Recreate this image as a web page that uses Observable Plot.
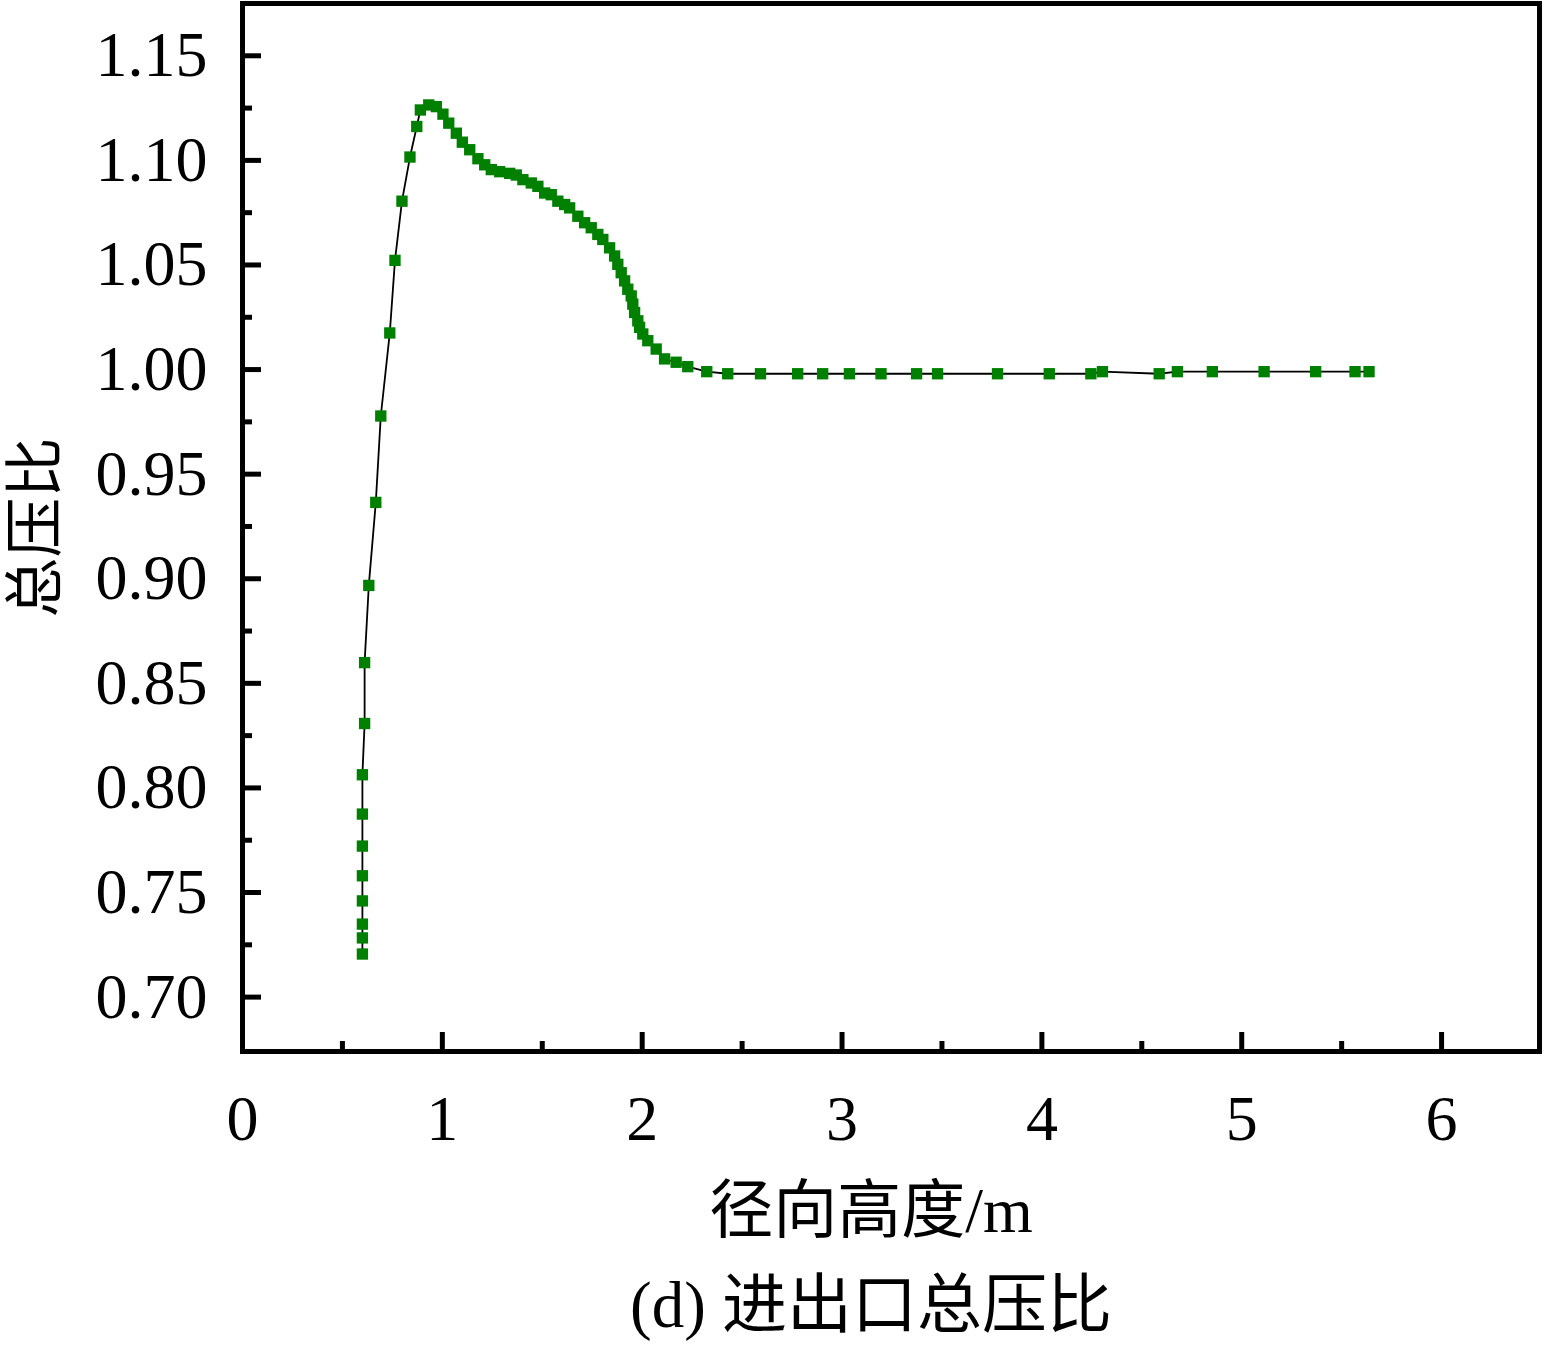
<!DOCTYPE html>
<html>
<head>
<meta charset="utf-8">
<script src="https://cdn.jsdelivr.net/npm/d3@7"></script>
<script src="https://cdn.jsdelivr.net/npm/@observablehq/plot@0.6"></script>
<style>
  html, body { margin: 0; padding: 0; background: #fff; }
</style>
</head>
<body>
<div id="chart"></div>
<script>
// Radial height (m)
const radialHeight = [
  0.600, 0.600, 0.600, 0.600, 0.600, 0.600, 0.600, 0.600, 0.611, 0.611,
  0.632, 0.667, 0.692, 0.737, 0.763, 0.798, 0.838, 0.872, 0.890, 0.932,
  0.970, 1.003, 1.032, 1.070, 1.100, 1.137, 1.178, 1.212, 1.245, 1.287,
  1.337, 1.370, 1.403, 1.445, 1.478, 1.512, 1.545, 1.578, 1.612, 1.637,
  1.678, 1.712, 1.745, 1.778, 1.803, 1.837, 1.862, 1.878, 1.895, 1.912,
  1.928, 1.945, 1.953, 1.962, 1.978, 1.987, 2.003, 2.028, 2.070, 2.112,
  2.170, 2.228, 2.323, 2.428, 2.592, 2.778, 2.903, 3.037, 3.195, 3.373,
  3.478, 3.778, 4.037, 4.245, 4.303, 4.587, 4.678, 4.853, 5.112, 5.370,
  5.567, 5.637
];
// Total pressure ratio
const pressureRatio = [
  0.7206, 0.7283, 0.7349, 0.7460, 0.7580, 0.7722, 0.7875, 0.8063, 0.8308, 0.8599,
  0.8968, 0.9365, 0.9778, 1.0175, 1.0522, 1.0805, 1.1016, 1.1162, 1.1241, 1.1265,
  1.1257, 1.1221, 1.1178, 1.1130, 1.1087, 1.1051, 1.1008, 1.0979, 1.0956, 1.0946,
  1.0938, 1.0930, 1.0908, 1.0892, 1.0876, 1.0844, 1.0836, 1.0805, 1.0789, 1.0773,
  1.0733, 1.0702, 1.0678, 1.0646, 1.0622, 1.0582, 1.0543, 1.0503, 1.0463, 1.0424,
  1.0384, 1.0352, 1.0313, 1.0273, 1.0233, 1.0202, 1.0170, 1.0138, 1.0098, 1.0051,
  1.0035, 1.0014, 0.9990, 0.9980, 0.9980, 0.9980, 0.9980, 0.9980, 0.9980, 0.9980,
  0.9980, 0.9980, 0.9980, 0.9980, 0.9990, 0.9980, 0.9990, 0.9990, 0.9990, 0.9990,
  0.9990, 0.9990
];

const xMajorTicks = [0, 1, 2, 3, 4, 5, 6];
const xMinorTicks = [0.5, 1.5, 2.5, 3.5, 4.5, 5.5];
const yMajorTicks = [0.70, 0.75, 0.80, 0.85, 0.90, 0.95, 1.00, 1.05, 1.10, 1.15];
const yMinorTicks = [0.725, 0.775, 0.825, 0.875, 0.925, 0.975, 1.025, 1.075, 1.125];

const xLabel = "径向高度/m";
const yLabel = "总压比";
const caption = "(d) 进出口总压比";

const data = radialHeight.map((x, i) => ({x, y: pressureRatio[i]}));

const serif = "'Liberation Serif', 'Times New Roman', 'Noto Sans CJK SC', serif";

const chart = Plot.plot({
  width: 1544,
  height: 1345,
  marginLeft: 242,
  marginRight: 5,
  marginTop: 3,
  marginBottom: 294,
  style: {fontFamily: serif, background: "#fff", color: "#000"},
  x: {domain: [0, 6.49]},
  y: {domain: [0.674, 1.175]},
  marks: [
    Plot.line(data, {x: "x", y: "y", stroke: "#000", strokeWidth: 1.8}),
    Plot.dot(data, {x: "x", y: "y", symbol: "square", r: 6.4, fill: "#008000", stroke: "none"}),
    // inward ticks
    Plot.axisX({ticks: xMajorTicks, tickSize: -19, strokeWidth: 5, tickFormat: () => "", label: null}),
    Plot.axisX({ticks: xMinorTicks, tickSize: -10, strokeWidth: 5, tickFormat: () => "", label: null}),
    Plot.axisY({ticks: yMajorTicks, tickSize: -19, strokeWidth: 5, tickFormat: () => "", label: null}),
    Plot.axisY({ticks: yMinorTicks, tickSize: -10, strokeWidth: 5, tickFormat: () => "", label: null}),
    // tick labels
    Plot.axisX({ticks: xMajorTicks, tickSize: 0, tickPadding: 43, fontSize: 64, fontFamily: serif, tickFormat: d => String(d), label: null}),
    Plot.axisY({ticks: yMajorTicks, tickSize: 0, tickPadding: 35, fontSize: 64, fontFamily: serif, tickFormat: d3.format(".2f"), label: null}),
    Plot.frame({stroke: "#000", strokeWidth: 5}),
    // axis titles and caption
    Plot.text([xLabel], {frameAnchor: "bottom", dx: -20, dy: 160, textAnchor: "middle", lineAnchor: "middle", fontSize: 64, fontFamily: serif, fill: "#000"}),
    Plot.text([yLabel], {frameAnchor: "left", dx: -206, rotate: -90, textAnchor: "middle", lineAnchor: "middle", fontSize: 60, fontFamily: serif, fill: "#000"}),
    Plot.text([caption], {frameAnchor: "bottom", dx: -20, dy: 255, textAnchor: "middle", lineAnchor: "middle", fontSize: 65, fontFamily: serif, fill: "#000"})
  ]
});

document.getElementById("chart").appendChild(chart);
</script>
</body>
</html>
